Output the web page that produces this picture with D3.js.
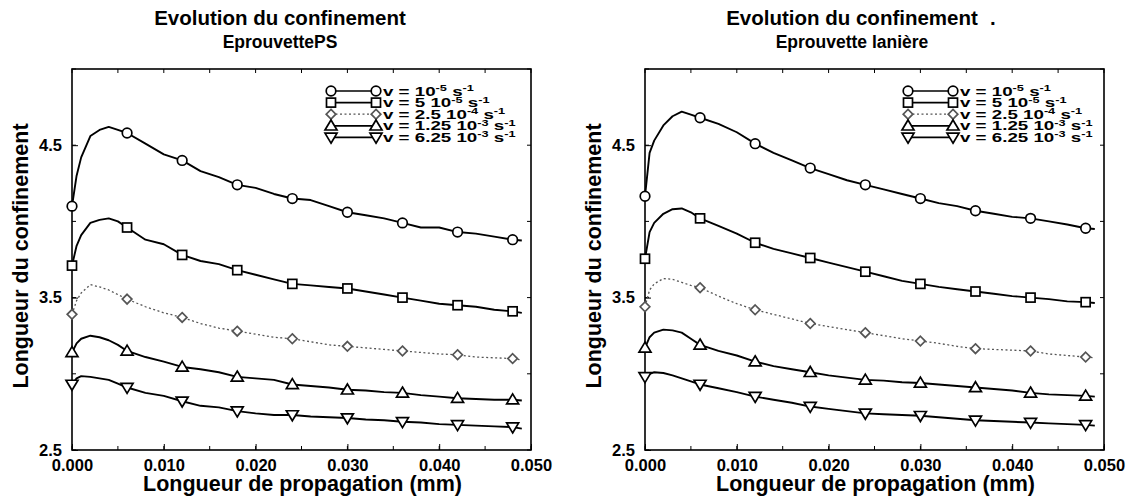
<!DOCTYPE html>
<html><head><meta charset="utf-8">
<script src="https://cdn.jsdelivr.net/npm/d3@7"></script>
<style>body{margin:0;background:#fff}svg{display:block;font-family:"Liberation Sans",Arial,sans-serif}</style>
</head><body><svg id="c" width="1127" height="499"></svg>
<script>
const lineX = [0,0.0005,0.001,0.002,0.003,0.004,0.005,0.006,0.008,0.010,0.012,0.014,0.016,0.018,0.020,0.022,0.024,0.026,0.028,0.030,0.032,0.034,0.036,0.038,0.040,0.042,0.044,0.046,0.048,0.049];
const markerX = [0,0.006,0.012,0.018,0.024,0.030,0.036,0.042,0.048];
const xTicks = [0,0.01,0.02,0.03,0.04,0.05];
const yTicks = [2.5,3.5,4.5];
const seriesLabels = [["v = 10","-5"],["v = 5 10","-5"],["v = 2.5 10","-4"],["v = 1.25 10","-3"],["v = 6.25 10","-3"]];
const seriesSymbols = ["circle","square","diamond","triUp","triDown"];

// Eprouvette PS
const psV1 = [4.10,4.30,4.42,4.56,4.60,4.62,4.60,4.58,4.51,4.44,4.40,4.33,4.29,4.24,4.22,4.18,4.15,4.14,4.10,4.06,4.04,4.02,3.99,3.96,3.96,3.93,3.92,3.90,3.88,3.875];
const psV2 = [3.71,3.84,3.91,3.99,4.01,4.02,4.00,3.96,3.88,3.85,3.78,3.74,3.72,3.68,3.65,3.62,3.59,3.58,3.57,3.56,3.54,3.52,3.50,3.48,3.46,3.45,3.44,3.42,3.41,3.40];
const psV3 = [3.39,3.48,3.53,3.585,3.57,3.55,3.52,3.49,3.44,3.40,3.37,3.33,3.30,3.28,3.26,3.24,3.23,3.21,3.19,3.18,3.17,3.16,3.15,3.14,3.13,3.125,3.11,3.105,3.10,3.09];
const psV4 = [3.14,3.20,3.23,3.25,3.24,3.22,3.19,3.15,3.11,3.08,3.045,3.03,3.01,2.98,2.97,2.96,2.93,2.92,2.91,2.895,2.89,2.88,2.875,2.86,2.85,2.84,2.835,2.83,2.83,2.825];
const psV5 = [2.93,2.97,2.985,2.98,2.97,2.96,2.935,2.91,2.875,2.855,2.82,2.79,2.78,2.755,2.74,2.73,2.73,2.72,2.715,2.71,2.70,2.695,2.685,2.68,2.67,2.665,2.66,2.655,2.65,2.64];
// Eprouvette lanière
const lnV1 = [4.165,4.45,4.53,4.63,4.69,4.72,4.70,4.68,4.64,4.585,4.51,4.45,4.40,4.35,4.31,4.27,4.24,4.21,4.18,4.15,4.12,4.10,4.07,4.05,4.03,4.02,4.00,3.98,3.955,3.95];
const lnV2 = [3.755,3.93,3.99,4.05,4.08,4.085,4.06,4.02,3.97,3.92,3.86,3.82,3.79,3.76,3.73,3.70,3.67,3.64,3.61,3.59,3.57,3.555,3.54,3.525,3.51,3.50,3.49,3.475,3.47,3.465];
const lnV3 = [3.44,3.55,3.59,3.625,3.62,3.60,3.58,3.565,3.51,3.46,3.42,3.39,3.36,3.33,3.31,3.29,3.27,3.25,3.23,3.215,3.20,3.18,3.165,3.16,3.155,3.15,3.13,3.12,3.11,3.105];
const lnV4 = [3.17,3.24,3.27,3.29,3.285,3.27,3.23,3.19,3.15,3.12,3.08,3.05,3.03,3.01,2.99,2.975,2.96,2.955,2.945,2.94,2.93,2.92,2.91,2.90,2.89,2.875,2.865,2.86,2.855,2.85];
const lnV5 = [2.98,3.00,3.01,3.005,2.99,2.97,2.95,2.93,2.905,2.88,2.85,2.83,2.81,2.785,2.77,2.755,2.74,2.735,2.73,2.725,2.715,2.705,2.695,2.69,2.685,2.68,2.675,2.67,2.665,2.66];

const panels = [
  {title:"Evolution du confinement", dot:false, sub:"EprouvettePS", series:[psV1,psV2,psV3,psV4,psV5], x0:72, x1:531, tx:280, legX:331},
  {title:"Evolution du confinement", dot:true, sub:"Eprouvette lanière", series:[lnV1,lnV2,lnV3,lnV4,lnV5], x0:645, x1:1104, tx:852, legX:908}
];

const svg = d3.select("#c");
const yTop = 69, yBot = 450;

function symbolPath(g, type, cx, cy, color){
  let el;
  if(type==="circle") el = g.append("circle").attr("cx",cx).attr("cy",cy).attr("r",4.8);
  else if(type==="square") el = g.append("rect").attr("x",cx-4.5).attr("y",cy-4.5).attr("width",9).attr("height",9);
  else if(type==="diamond") el = g.append("path").attr("d",`M${cx},${cy-4.8}L${cx+4.8},${cy}L${cx},${cy+4.8}L${cx-4.8},${cy}Z`);
  else if(type==="triUp") el = g.append("path").attr("d",`M${cx},${cy-5.8}L${cx+6},${cy+4.2}L${cx-6},${cy+4.2}Z`);
  else el = g.append("path").attr("d",`M${cx},${cy+5.8}L${cx+6},${cy-4.2}L${cx-6},${cy-4.2}Z`);
  el.attr("fill","#fff").attr("stroke",color).attr("stroke-width",1.7);
}

panels.forEach(p=>{
  const x = d3.scaleLinear().domain([0,0.05]).range([p.x0,p.x1]);
  const y = d3.scaleLinear().domain([2.5,5.0]).range([yBot,yTop]);
  const g = svg.append("g");

  // titles
  const tt = g.append("text").attr("x",p.tx).attr("y",25).attr("text-anchor","middle").attr("font-weight","bold").attr("font-size",20.5).text(p.title);
  if(p.dot){
    const bb = tt.node().getBBox();
    g.append("text").attr("x",bb.x+bb.width+12).attr("y",25).attr("font-weight","bold").attr("font-size",20.5).text(".");
  }
  g.append("text").attr("x",p.tx).attr("y",48).attr("text-anchor","middle").attr("font-weight","bold").attr("font-size",17.5).text(p.sub);

  // frame
  g.append("rect").attr("x",p.x0).attr("y",yTop).attr("width",p.x1-p.x0).attr("height",yBot-yTop).attr("fill","none").attr("stroke","#000").attr("stroke-width",1.6);

  // axes
  const minorX = d3.range(0,0.0501,0.005);
  const minorY = d3.range(2.5,5.01,0.5);
  const ax = g.append("g").attr("transform",`translate(0,${yBot})`)
    .call(d3.axisBottom(x).tickValues(xTicks).tickFormat(d3.format(".3f")).tickSizeInner(-6).tickSizeOuter(0).tickPadding(9));
  ax.select(".domain").remove();
  ax.selectAll("text").attr("font-size",16.5).attr("font-weight","bold").attr("font-family","Liberation Sans, Arial, sans-serif");
  const ay = g.append("g").attr("transform",`translate(${p.x0},0)`)
    .call(d3.axisLeft(y).tickValues(yTicks).tickFormat(d3.format(".1f")).tickSizeInner(-6).tickSizeOuter(0).tickPadding(10));
  ay.select(".domain").remove();
  ay.selectAll("text").attr("font-size",16.5).attr("font-weight","bold").attr("font-family","Liberation Sans, Arial, sans-serif");
  // minor ticks
  g.append("g").selectAll("line").data(minorX).join("line")
    .attr("x1",d=>x(d)).attr("x2",d=>x(d)).attr("y1",yBot).attr("y2",yBot-4).attr("stroke","#000");
  g.append("g").selectAll("line").data(minorX).join("line")
    .attr("x1",d=>x(d)).attr("x2",d=>x(d)).attr("y1",yTop).attr("y2",yTop+4).attr("stroke","#000");
  g.append("g").selectAll("line").data(minorY).join("line")
    .attr("x1",p.x0).attr("x2",p.x0+4).attr("y1",d=>y(d)).attr("y2",d=>y(d)).attr("stroke","#000");
  g.append("g").selectAll("line").data(minorY).join("line")
    .attr("x1",p.x1).attr("x2",p.x1-4).attr("y1",d=>y(d)).attr("y2",d=>y(d)).attr("stroke","#000");

  // axis titles
  g.append("text").attr("x",(p.x0+p.x1)/2+1).attr("y",491).attr("text-anchor","middle").attr("font-weight","bold").attr("font-size",21.5).text("Longueur de propagation (mm)");
  g.append("text").attr("transform",`translate(${p.x0-44},256) rotate(-90)`).attr("text-anchor","middle").attr("font-weight","bold").attr("font-size",21.5).text("Longueur du confinement");

  // series
  const line = d3.line().x((d,i)=>x(lineX[i])).y(d=>y(d));
  p.series.forEach((vals,si)=>{
    const dotted = si===2;
    const color = dotted ? "#555" : "#000";
    g.append("path").attr("d",line(vals)).attr("fill","none").attr("stroke",color)
      .attr("stroke-width",dotted?1.3:1.9).attr("stroke-dasharray",dotted?"2,2.5":null).attr("stroke-linejoin","round");
    markerX.forEach(mx=>{
      const i = lineX.indexOf(mx);
      symbolPath(g, seriesSymbols[si], x(mx), y(vals[i]), color);
    });
  });

  // legend
  const lg = g.append("g");
  seriesLabels.forEach((lab,si)=>{
    const ly = 91 + si*11.6;
    const dotted = si===2;
    const color = dotted ? "#555" : "#000";
    lg.append("line").attr("x1",p.legX).attr("x2",p.legX+45).attr("y1",ly).attr("y2",ly).attr("stroke",color)
      .attr("stroke-width",dotted?1.3:1.7).attr("stroke-dasharray",dotted?"2,2.5":null);
    symbolPath(lg, seriesSymbols[si], p.legX, ly, color);
    symbolPath(lg, seriesSymbols[si], p.legX+45, ly, color);
    const t = lg.append("text").attr("transform",`translate(${p.legX+52},${ly+4.5}) scale(1.5,1)`).attr("font-weight","bold").attr("font-size",12.5);
    t.append("tspan").text(lab[0]);
    t.append("tspan").attr("dy",-4.5).attr("font-size",8.5).text(lab[1]);
    t.append("tspan").attr("dy",4.5).text(" s");
    t.append("tspan").attr("dy",-4.5).attr("font-size",8.5).text("-1");
  });
});
</script></body></html>
